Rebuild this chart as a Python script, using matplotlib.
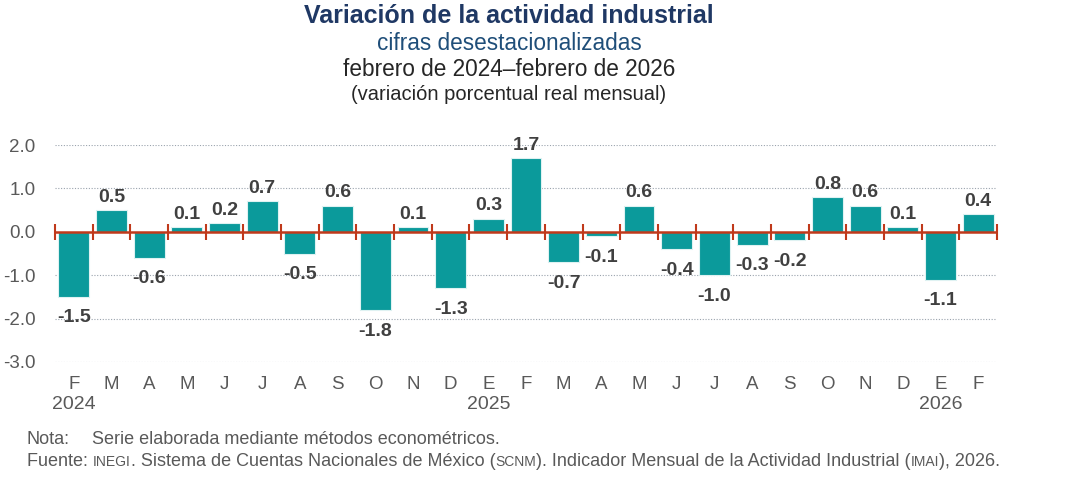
import numpy as np
import matplotlib
matplotlib.use("Agg")
import matplotlib.pyplot as plt
from matplotlib import transforms

plt.rcParams["font.family"] = ["Liberation Sans", "DejaVu Sans"]

# data: monthly change, Feb 2024 - Feb 2026
months = ["F", "M", "A", "M", "J", "J", "A", "S", "O", "N", "D", "E",
          "F", "M", "A", "M", "J", "J", "A", "S", "O", "N", "D", "E", "F"]
values = [-1.5, 0.5, -0.6, 0.1, 0.2, 0.7, -0.5, 0.6, -1.8, 0.1, -1.3, 0.3,
          1.7, -0.7, -0.1, 0.6, -0.4, -1.0, -0.3, -0.2, 0.8, 0.6, 0.1, -1.1, 0.4]
year_labels = {0: "2024", 11: "2025", 23: "2026"}
y_ticks = [2.0, 1.0, 0.0, -1.0, -2.0, -3.0]

BAR = "#0b9a9b"
ZERO = "#c0391b"
TXT = "#595959"
LBL = "#404040"
NAVY = "#1f3864"

fig = plt.figure(figsize=(10.68, 4.82), dpi=100)
ax = fig.add_axes([55 / 1068, 1 - 362 / 482, 942 / 1068, 217 / 482])

x = np.arange(len(values))
ax.bar(x, values, width=0.82, color=BAR, edgecolor="#dff2f2", linewidth=0.8, zorder=2)

ax.set_xlim(-0.5, len(values) - 0.5)
ax.set_ylim(-3, 2)
for y in y_ticks:
    if y != 0:
        ax.axhline(y, color="#9aa3ad", ls=(0, (1, 1.5)), lw=0.8, zorder=1)

# zero line with category boundary ticks
ax.axhline(0, color=ZERO, lw=1.8, zorder=3)
bounds = np.arange(len(values) + 1) - 0.5
ax.plot(bounds, np.zeros_like(bounds), ls="none", marker="|", ms=11, mew=1.5,
        color=ZERO, zorder=3, clip_on=False)

for xi, v in zip(x, values):
    off = 0.1 if v >= 0 else -0.29
    ax.text(xi, v + off, f"{v:.1f}", ha="center", va="bottom" if v >= 0 else "top",
            fontsize=14, fontweight="bold", color=LBL, clip_on=False)

for s in ax.spines.values():
    s.set_visible(False)
ax.set_yticks(y_ticks)
ax.set_yticklabels([f"{t:.1f}" for t in y_ticks], fontsize=13.5, color=TXT)
ax.tick_params(axis="y", length=0, pad=14)
ax.set_xticks(x)
ax.set_xticklabels(months, fontsize=13.5, color=TXT)
ax.tick_params(axis="x", length=0, pad=10)

trans = transforms.blended_transform_factory(ax.transData, ax.transAxes)
for i, yl in year_labels.items():
    ax.text(i, -0.195, yl, transform=trans, ha="center", va="center",
            fontsize=14, color=TXT)

# titles
fig.text(509 / 1068, 1 - 16 / 482, "Variación de la actividad industrial", ha="center",
         va="center", fontsize=18, fontweight="bold", color=NAVY)
fig.text(509 / 1068, 1 - 43 / 482, "cifras desestacionalizadas", ha="center",
         va="center", fontsize=16.3, color="#1f4e79")
fig.text(509 / 1068, 1 - 70 / 482, "febrero de 2024\u2013febrero de 2026", ha="center",
         va="center", fontsize=16.3, color="#262626")
fig.text(509 / 1068, 1 - 95 / 482, "(variación porcentual real mensual)", ha="center",
         va="center", fontsize=14.5, color="#262626")

# footnotes, with small caps pieces
fig.canvas.draw()
renderer = fig.canvas.get_renderer()


def chain(x0, y0, parts):
    xp = x0
    for txt, size in parts:
        t = fig.text(xp / 1068, 1 - y0 / 482, txt, ha="left", va="baseline",
                     fontsize=size, color=TXT)
        bb = t.get_window_extent(renderer)
        xp += bb.width


fig.text(27 / 1068, 1 - 444 / 482, "Nota:", fontsize=13, color=TXT, va="baseline")
fig.text(92 / 1068, 1 - 444 / 482, "Serie elaborada mediante métodos econométricos.",
         fontsize=13, color=TXT, va="baseline")
chain(27, 466, [("Fuente: ", 13), ("INEGI", 10),
                (". Sistema de Cuentas Nacionales de México (", 13), ("SCNM", 10),
                ("). Indicador Mensual de la Actividad Industrial (", 13), ("IMAI", 10),
                ("), 2026.", 13)])

fig.savefig("out.png", dpi=100)
